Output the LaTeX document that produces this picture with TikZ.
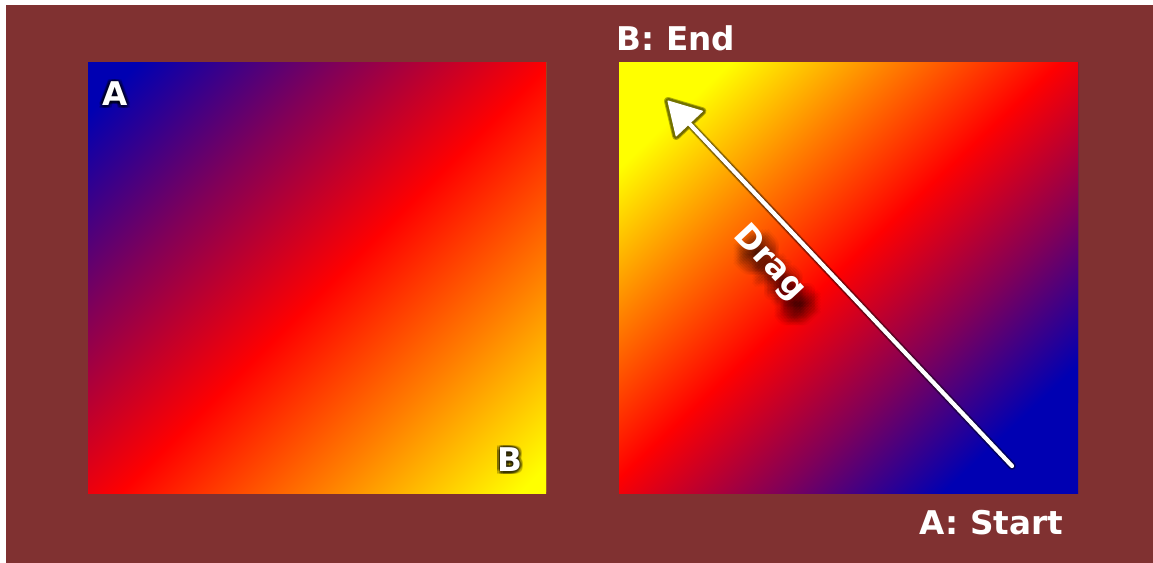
\documentclass[tikz,border=0pt]{standalone}
\usepackage{fontspec}
\setmainfont{DejaVu Sans}
\usetikzlibrary{calc}
\definecolor{bgbrown}{RGB}{128,49,49}
\definecolor{gblue}{RGB}{0,0,178}
\definecolor{gpurple}{RGB}{128,0,89}
\definecolor{gred}{RGB}{255,0,0}
\definecolor{gorange}{RGB}{255,128,0}
\definecolor{gyellow}{RGB}{255,255,0}
\pgfdeclarehorizontalshading{bry}{100bp}{color(0bp)=(gblue); color(27.8bp)=(gblue); color(39bp)=(gpurple); color(51bp)=(gred); color(62.5bp)=(gorange); color(73.5bp)=(gyellow); color(100bp)=(gyellow)}
\begin{document}
\begin{tikzpicture}[x=0.75pt,y=-0.75pt,
  lblfont/.style={font=\fontsize{24.5pt}{29pt}\selectfont\bfseries, inner sep=0pt},
  lbl/.style={lblfont, text=white},
  glowtxt/.style={lblfont, text=black, text opacity=0.13},
  dshadow/.style={lblfont, text=black, text opacity=0.035},
  arrowglow/.style={black, line join=round, line cap=round}]
\useasboundingbox (0,0) rectangle (1153,563);
\fill[white] (0,0) rectangle (1153,563);
\fill[bgbrown] (6,5) rectangle (1153,563);

% left gradient square
\begin{scope}
  \clip (88,63) rectangle (546,493);
  \begin{scope}[transform canvas={rotate around={-45:(310,285)}}]
    \fill[gblue] (-1700,-1500) rectangle (310,2000);
    \fill[gyellow] (310,-1500) rectangle (2300,2000);
    \shade[shading=bry] (-3.95,-1500) rectangle (623.95,2000);
  \end{scope}
\end{scope}

% right gradient square
\begin{scope}
  \clip (619,63) rectangle (1078,493);
  \begin{scope}[transform canvas={rotate around={133.3:(840,283.5)}}]
    \fill[gblue] (-1200,-1500) rectangle (840,2000);
    \fill[gyellow] (840,-1500) rectangle (2800,2000);
    \shade[shading=bry] (589.2,-1500) rectangle (1090.8,2000);
  \end{scope}
\end{scope}

% labels in left square, with dark glow
\foreach \i in {-2,...,2}{\foreach \j in {-2,...,2}{
  \node[glowtxt] (gA\i-\j) at ({115+1.4*\i},{94+1.4*\j}) {A};
  \node[glowtxt] (gB\i-\j) at ({510+1.4*\i},{460+1.4*\j}) {B};
}}
\node[lbl] (labA) at (115,94) {A};
\node[lbl] (labB) at (510,460) {B};

% labels outside right square
\node[lbl] (labEnd) at (676,38) {B: End};
\node[lbl] (labStart) at (991.5,523) {A: Start};

% Drag text with soft shadow
\foreach \i in {-3,...,3}{\foreach \j in {-3,...,3}{
  \node[dshadow, rotate=-47] (dsh\i-\j) at ({777+3*\i},{279+3*\j}) {Drag};
}}
\node[lbl, rotate=-47] (drag) at (769,263) {Drag};

% drag arrow
\coordinate (dragA) at (1012,466);
\coordinate (dragB) at (668,101);
\coordinate (hb) at ($(dragB)!23.25pt!(dragA)$);
\coordinate (hl) at ($(hb)!13.5pt!90:(dragA)$);
\coordinate (hr) at ($(hb)!13.5pt!-90:(dragA)$);
\filldraw[arrowglow, opacity=0.3, line width=6pt] (dragA) -- (hb) (hl) -- (dragB) -- (hr) -- cycle;
\filldraw[arrowglow, opacity=0.35, line width=4.6pt] (dragA) -- (hb) (hl) -- (dragB) -- (hr) -- cycle;
\draw[white, line width=3.2pt, line cap=round] (dragA) -- (hb);
\filldraw[white, line width=0.8pt, line join=round] (hl) -- (dragB) -- (hr) -- cycle;
\end{tikzpicture}
\end{document}
